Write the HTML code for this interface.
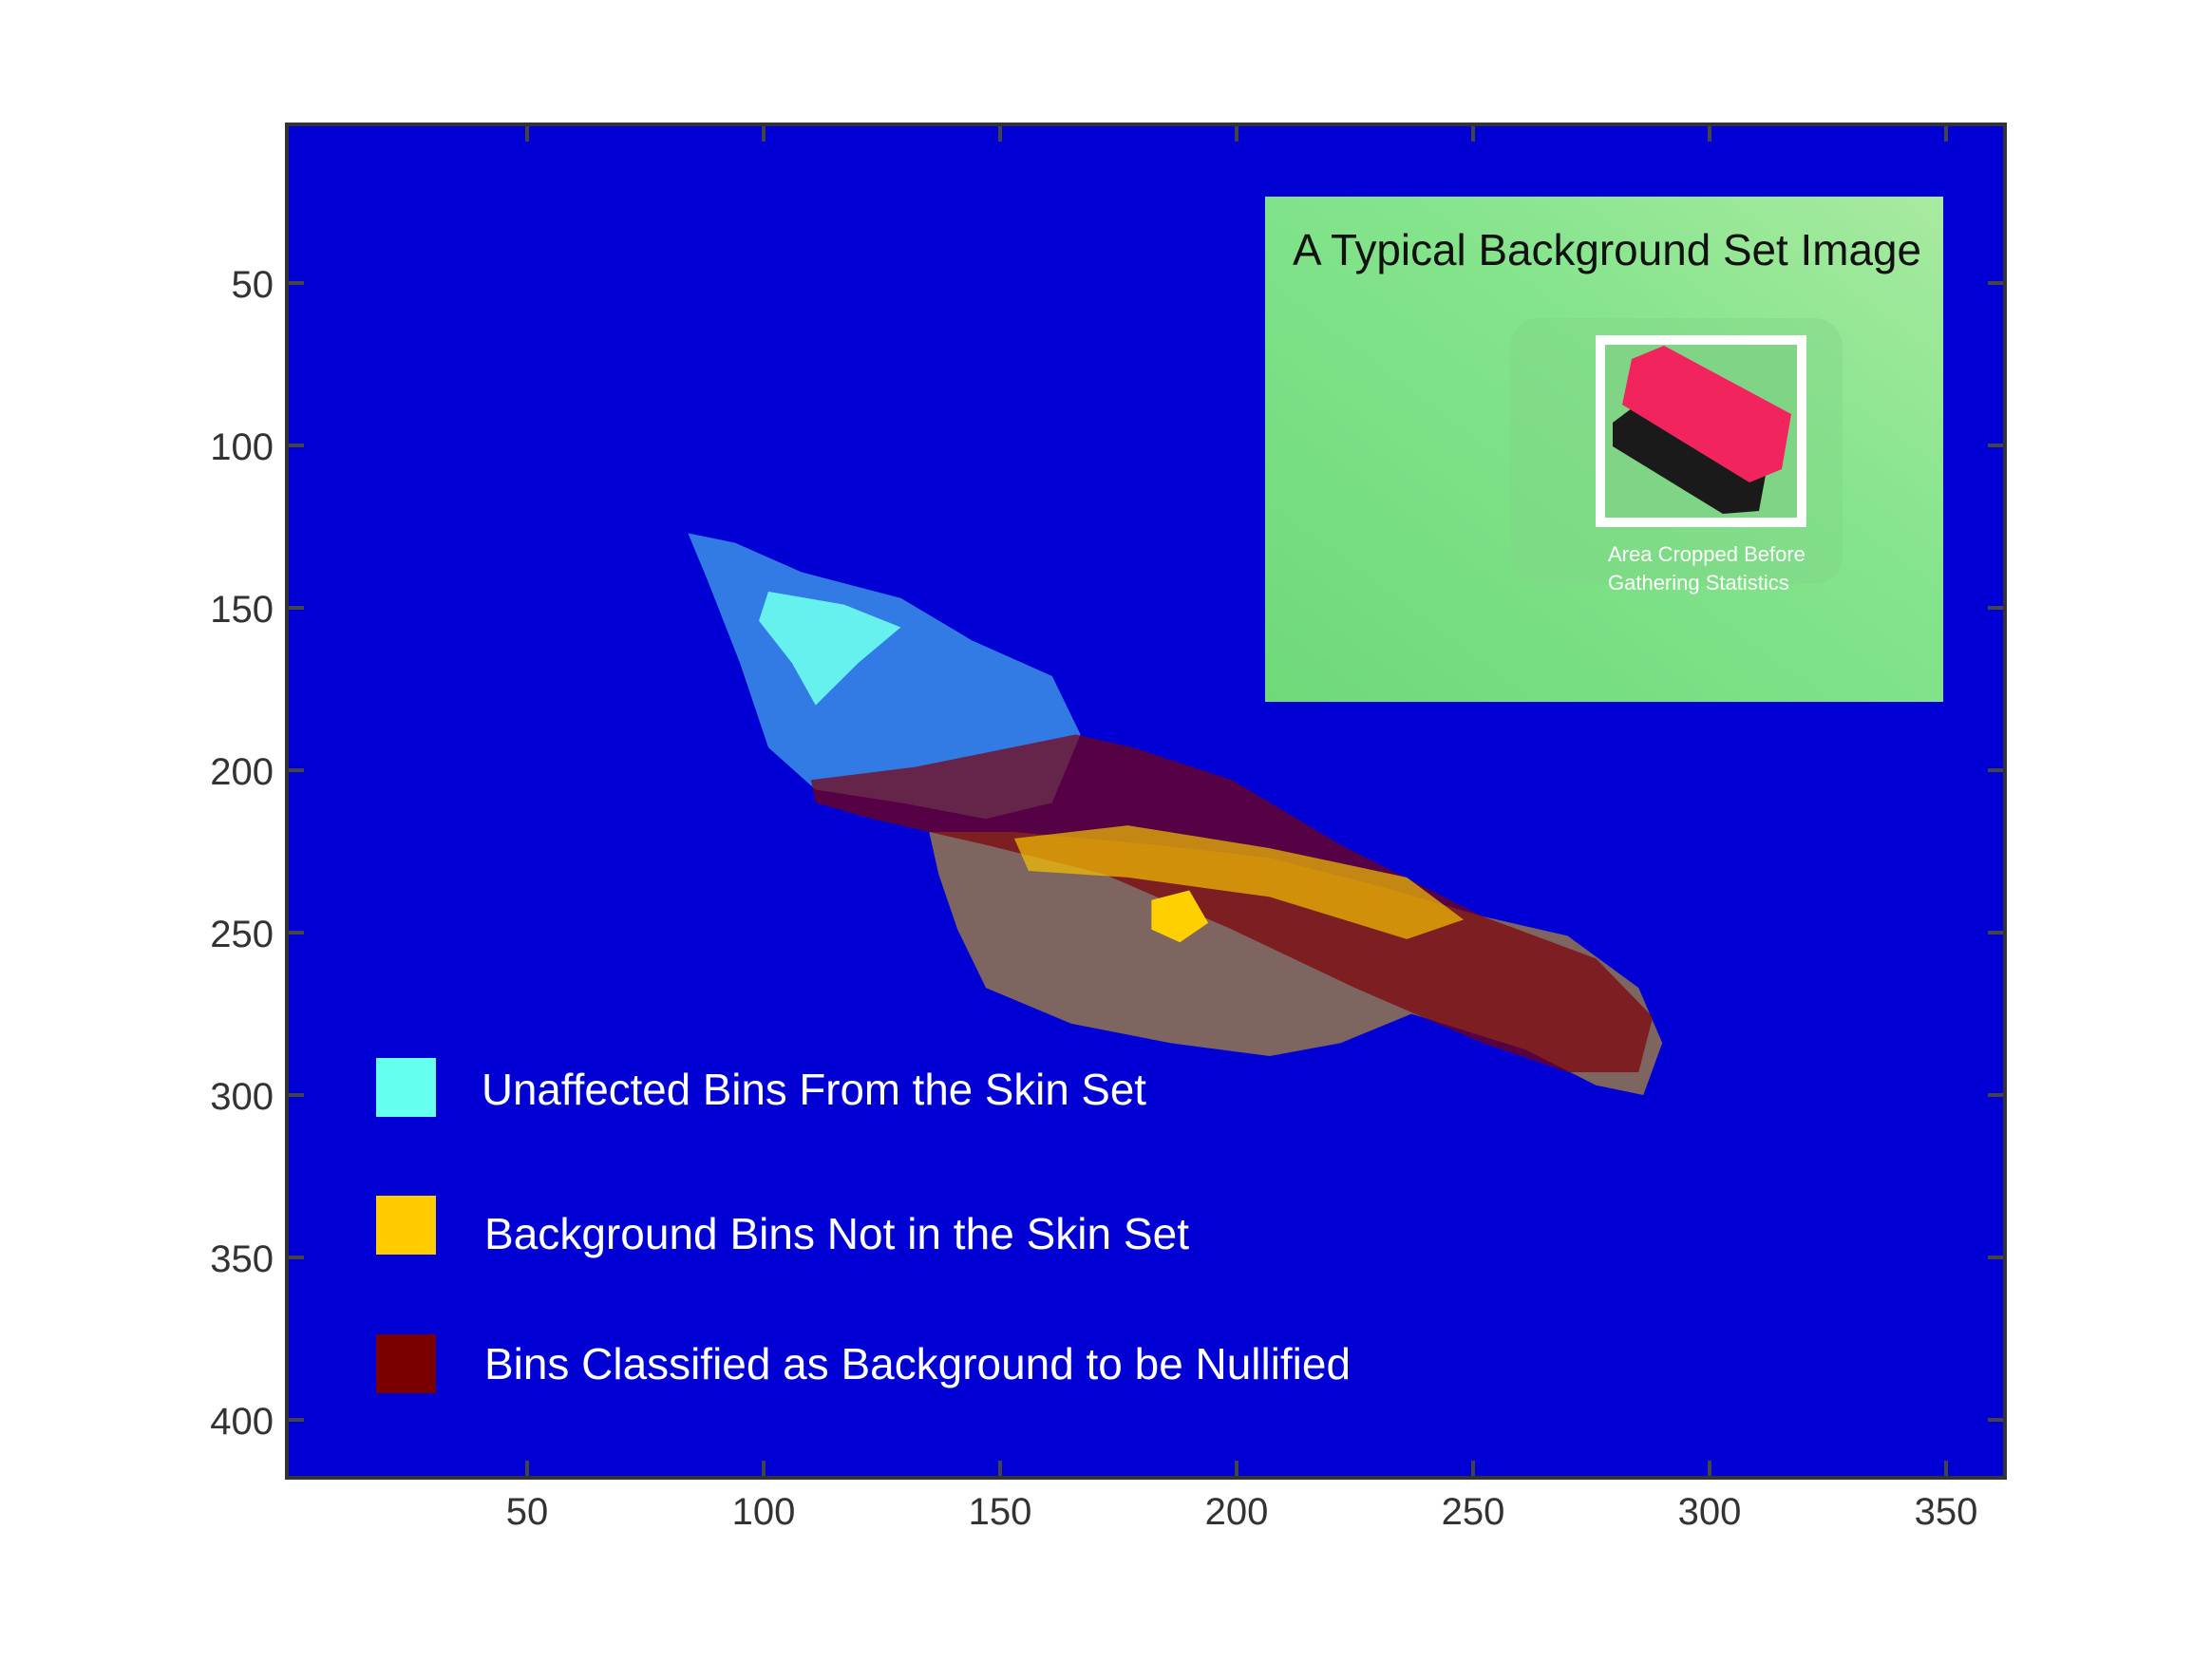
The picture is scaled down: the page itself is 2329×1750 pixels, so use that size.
<!DOCTYPE html>
<html><head><meta charset="utf-8"><style>
html,body{margin:0;padding:0;background:#fff;}
svg{display:block;}
text{font-family:"Liberation Sans",sans-serif;}
</style></head><body>
<svg id="chart" width="2329" height="1750" viewBox="0 0 2329 1750" xmlns="http://www.w3.org/2000/svg">
<defs>
<linearGradient id="gbg" x1="0" y1="1" x2="1" y2="0">
<stop offset="0" stop-color="#6fd97a"/><stop offset="0.6" stop-color="#84e48c"/><stop offset="1" stop-color="#a8eaa0"/>
</linearGradient>
</defs>
<rect x="302" y="131" width="1809" height="1425" fill="#0000d4"/>
<g id="marks"></g>
<g id="axes"></g>
<rect x="302" y="131" width="1809" height="1425" fill="none" stroke="#333" stroke-width="4"/>

<g>
<rect x="1332" y="207" width="714" height="532" fill="url(#gbg)"/>
<rect x="1590" y="335" width="350" height="280" rx="30" fill="#7fd585" opacity="0.4"/>
<text x="1361" y="279" font-size="46" fill="#111" textLength="662" lengthAdjust="spacingAndGlyphs">A Typical Background Set Image</text>
<rect x="1685" y="358" width="212" height="192" fill="#7fd486" stroke="#fff" stroke-width="10"/>
<polygon points="1698,445 1742,412 1862,484 1852,538 1814,541 1698,470" fill="#1a1a1a"/>
<polygon points="1718,378 1752,364 1886,436 1876,494 1842,508 1708,426" fill="#f2245e"/>
<text x="1693" y="591" font-size="22" fill="#fff">Area Cropped Before</text>
<text x="1693" y="621" font-size="22" fill="#fff">Gathering Statistics</text>
</g>

<g>
<rect x="396" y="1114" width="63" height="62" fill="#66fff0"/>
<text x="507" y="1163" font-size="46" fill="#fff" textLength="700" lengthAdjust="spacingAndGlyphs">Unaffected Bins From the Skin Set</text>
<rect x="396" y="1259" width="63" height="62" fill="#ffcc00"/>
<text x="510" y="1315" font-size="46" fill="#fff" textLength="742" lengthAdjust="spacingAndGlyphs">Background Bins Not in the Skin Set</text>
<rect x="396" y="1405" width="63" height="62" fill="#7a0000"/>
<text x="510" y="1452" font-size="46" fill="#fff" textLength="912" lengthAdjust="spacingAndGlyphs">Bins Classified as Background to be Nullified</text>
</g>
</svg>
<script>
const xTicks=[50,100,150,200,250,300,350];
const yTicks=[50,100,150,200,250,300,350,400];
const skinCloud=[[84,127],[94,130],[108,139],[129,147],[144,160],[161,171],[167,189],[161,210],[147,215],[129,210],[111,206],[101,193],[95,167],[88,141]];
const skinCore=[[101,145],[117,149],[129,156],[120,167],[111,180],[106,167],[99,154]];
const bgRegion=[[135,219],[153,219],[183,223],[207,227],[231,236],[252,245],[270,251],[285,267],[290,284],[286,300],[276,297],[261,286],[237,275],[222,284],[207,288],[186,284],[165,278],[147,267],[141,249],[137,232]];
const bgCore=[[153,221],[177,217],[207,224],[236,233],[248,246],[236,252],[207,239],[177,233],[156,231]];
const bgSpot=[[182,240],[190,237],[194,247],[188,253],[182,249]];
const nullRegion=[[110,203],[132,199],[166,189],[178,193],[199,203],[222,223],[252,245],[276,258],[288,276],[285,293],[270,293],[252,284],[225,267],[199,249],[172,232],[147,223],[123,215],[111,210]];
const X0=306,XS=4.98,Y0=127,YS=3.42;
function sx(v){return X0+v*XS;}
function sy(v){return Y0+v*YS;}
const NS='http://www.w3.org/2000/svg';
const marks=document.getElementById('marks');
const axes=document.getElementById('axes');
function poly(pts,fill,op){
const p=document.createElementNS(NS,'polygon');
p.setAttribute('points',pts.map(q=>sx(q[0])+','+sy(q[1])).join(' '));
p.setAttribute('fill',fill);p.setAttribute('opacity',op);
marks.appendChild(p);return p;}
let e;
e=poly(skinCloud,'#5ce0f0',0.55);


e=poly(skinCore,'#66f0ee',1);


e=poly(bgRegion,'#e8b800',0.55);


e=poly(nullRegion,'#7a0008',0.7);


e=poly(bgCore,'#f5c000',0.7);


e=poly(bgSpot,'#ffd000',1);


function ln(x1,y1,x2,y2){const l=document.createElementNS(NS,'line');
l.setAttribute('x1',x1);l.setAttribute('y1',y1);l.setAttribute('x2',x2);l.setAttribute('y2',y2);
l.setAttribute('stroke','#444');l.setAttribute('stroke-width','4');axes.appendChild(l);return l;}
function tx(x,y,s,anchor){const t=document.createElementNS(NS,'text');
t.setAttribute('x',x);t.setAttribute('y',y);t.setAttribute('font-size','40');t.setAttribute('fill','#333');
t.setAttribute('text-anchor',anchor);t.textContent=s;axes.appendChild(t);return t;}
xTicks.forEach(v=>{const x=sx(v);
let a=ln(x,1556,x,1538);


a=ln(x,131,x,149);


const t=tx(x,1605,String(v),'middle');

});
yTicks.forEach(v=>{const y=sy(v);
let a=ln(302,y,320,y);


a=ln(2111,y,2093,y);


const t=tx(288,y+15,String(v),'end');

});
</script>
</body></html>
